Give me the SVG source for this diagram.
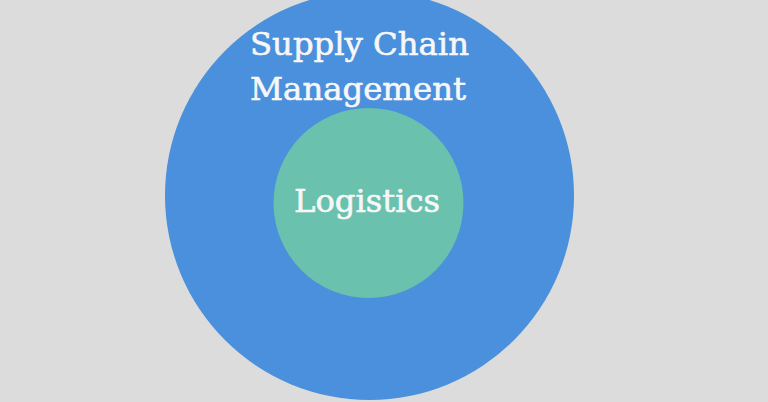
<svg xmlns="http://www.w3.org/2000/svg" width="768" height="402" viewBox="0 0 768 402">
<style>
.lbl{font-family:"DejaVu Serif","Liberation Serif",serif;font-size:31px;fill:#f7f7f7;stroke:#f7f7f7;stroke-width:0.6;text-anchor:middle}
</style>
<rect width="768" height="402" fill="#dcdcdc"/>
<g id="scm">
<circle cx="369.5" cy="195.5" r="204.5" fill="#4a90dc"/>
<text class="lbl" x="359.5" y="55" textLength="219" lengthAdjust="spacingAndGlyphs">Supply Chain</text>
<text class="lbl" x="358" y="100" textLength="216" lengthAdjust="spacingAndGlyphs">Management</text>
</g>
<g id="logistics">
<circle cx="368.5" cy="203" r="95" fill="#69c1ae"/>
<text class="lbl" x="367" y="212" textLength="146" lengthAdjust="spacingAndGlyphs">Logistics</text>
</g>
<g id="connectors"/>
</svg>
